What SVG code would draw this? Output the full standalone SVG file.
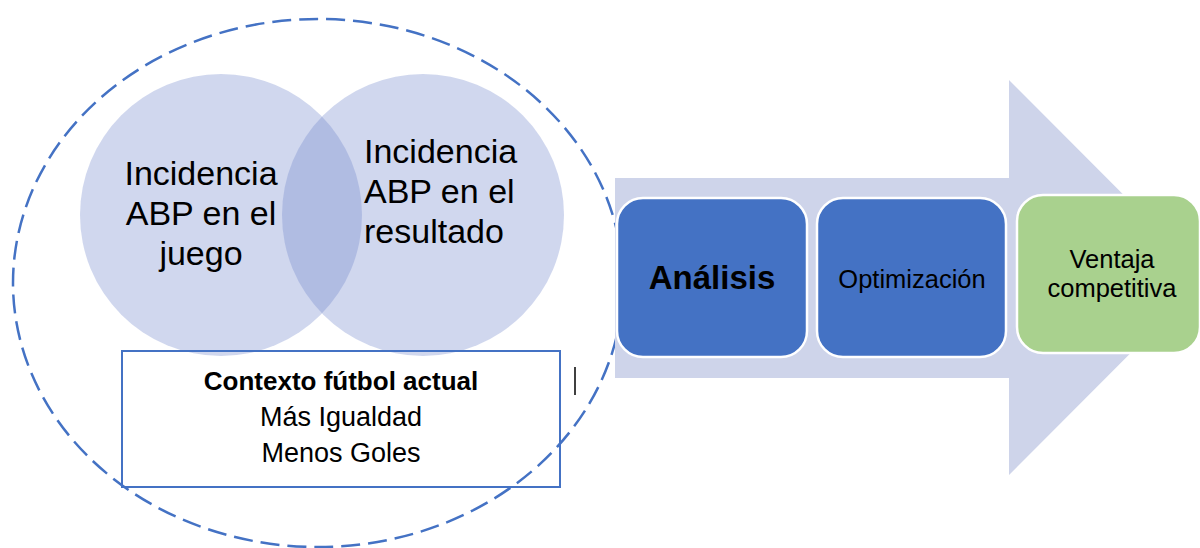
<svg xmlns="http://www.w3.org/2000/svg" width="1200" height="548" viewBox="0 0 1200 548">
<style>
text{font-family:"Liberation Sans",Arial,sans-serif;fill:#000}
.venn{fill:#6F87CC;fill-opacity:0.33}
.vt{font-size:34px}
.box{stroke:#fff;stroke-width:2.5}
.blue{fill:#4472C4}
.green{fill:#A9D18E}
</style>
<rect width="1200" height="548" fill="#fff"/>
<g id="scope">
<ellipse cx="318" cy="283" rx="305" ry="264" fill="none" stroke="#4472C4" stroke-width="2.5" stroke-dasharray="19 8"/>
</g>
<g id="circle-juego">
<circle class="venn" cx="221" cy="215" r="141"/>
<text class="vt" x="201" y="185" text-anchor="middle">Incidencia</text>
<text class="vt" x="201" y="225" text-anchor="middle">ABP en el</text>
<text class="vt" x="201" y="265" text-anchor="middle">juego</text>
</g>
<g id="circle-resultado">
<circle class="venn" cx="423" cy="215" r="141"/>
<text class="vt" x="364" y="163">Incidencia</text>
<text class="vt" x="364" y="203">ABP en el</text>
<text class="vt" x="364" y="243">resultado</text>
</g>
<g id="contexto">
<rect x="122" y="351" width="438" height="136" fill="none" stroke="#4472C4" stroke-width="2"/>
<text x="341" y="390" text-anchor="middle" font-size="26" font-weight="bold">Contexto fútbol actual</text>
<text x="341" y="426" text-anchor="middle" font-size="27">Más Igualdad</text>
<text x="341" y="462" text-anchor="middle" font-size="27">Menos Goles</text>
</g>
<line x1="575" y1="367" x2="575" y2="395" stroke="#000" stroke-width="1.5"/>
<g id="connectors">
<path id="process-arrow" d="M615,178 H1009 V80 L1206,277.5 L1009,475 V378 H615 Z" fill="#CED4EA"/>
</g>
<g id="analisis">
<rect class="box blue" x="617" y="198" width="190" height="159" rx="26"/>
<text x="712" y="289" text-anchor="middle" font-size="33" font-weight="bold">Análisis</text>
</g>
<g id="optimizacion">
<rect class="box blue" x="817" y="198" width="189" height="159" rx="26"/>
<text x="912" y="288" text-anchor="middle" font-size="25.5">Optimización</text>
</g>
<g id="ventaja">
<rect class="box green" x="1017" y="195" width="183" height="158" rx="26"/>
<text x="1112" y="268" text-anchor="middle" font-size="25.5">Ventaja</text>
<text x="1112" y="297" text-anchor="middle" font-size="25.5">competitiva</text>
</g>
</svg>
